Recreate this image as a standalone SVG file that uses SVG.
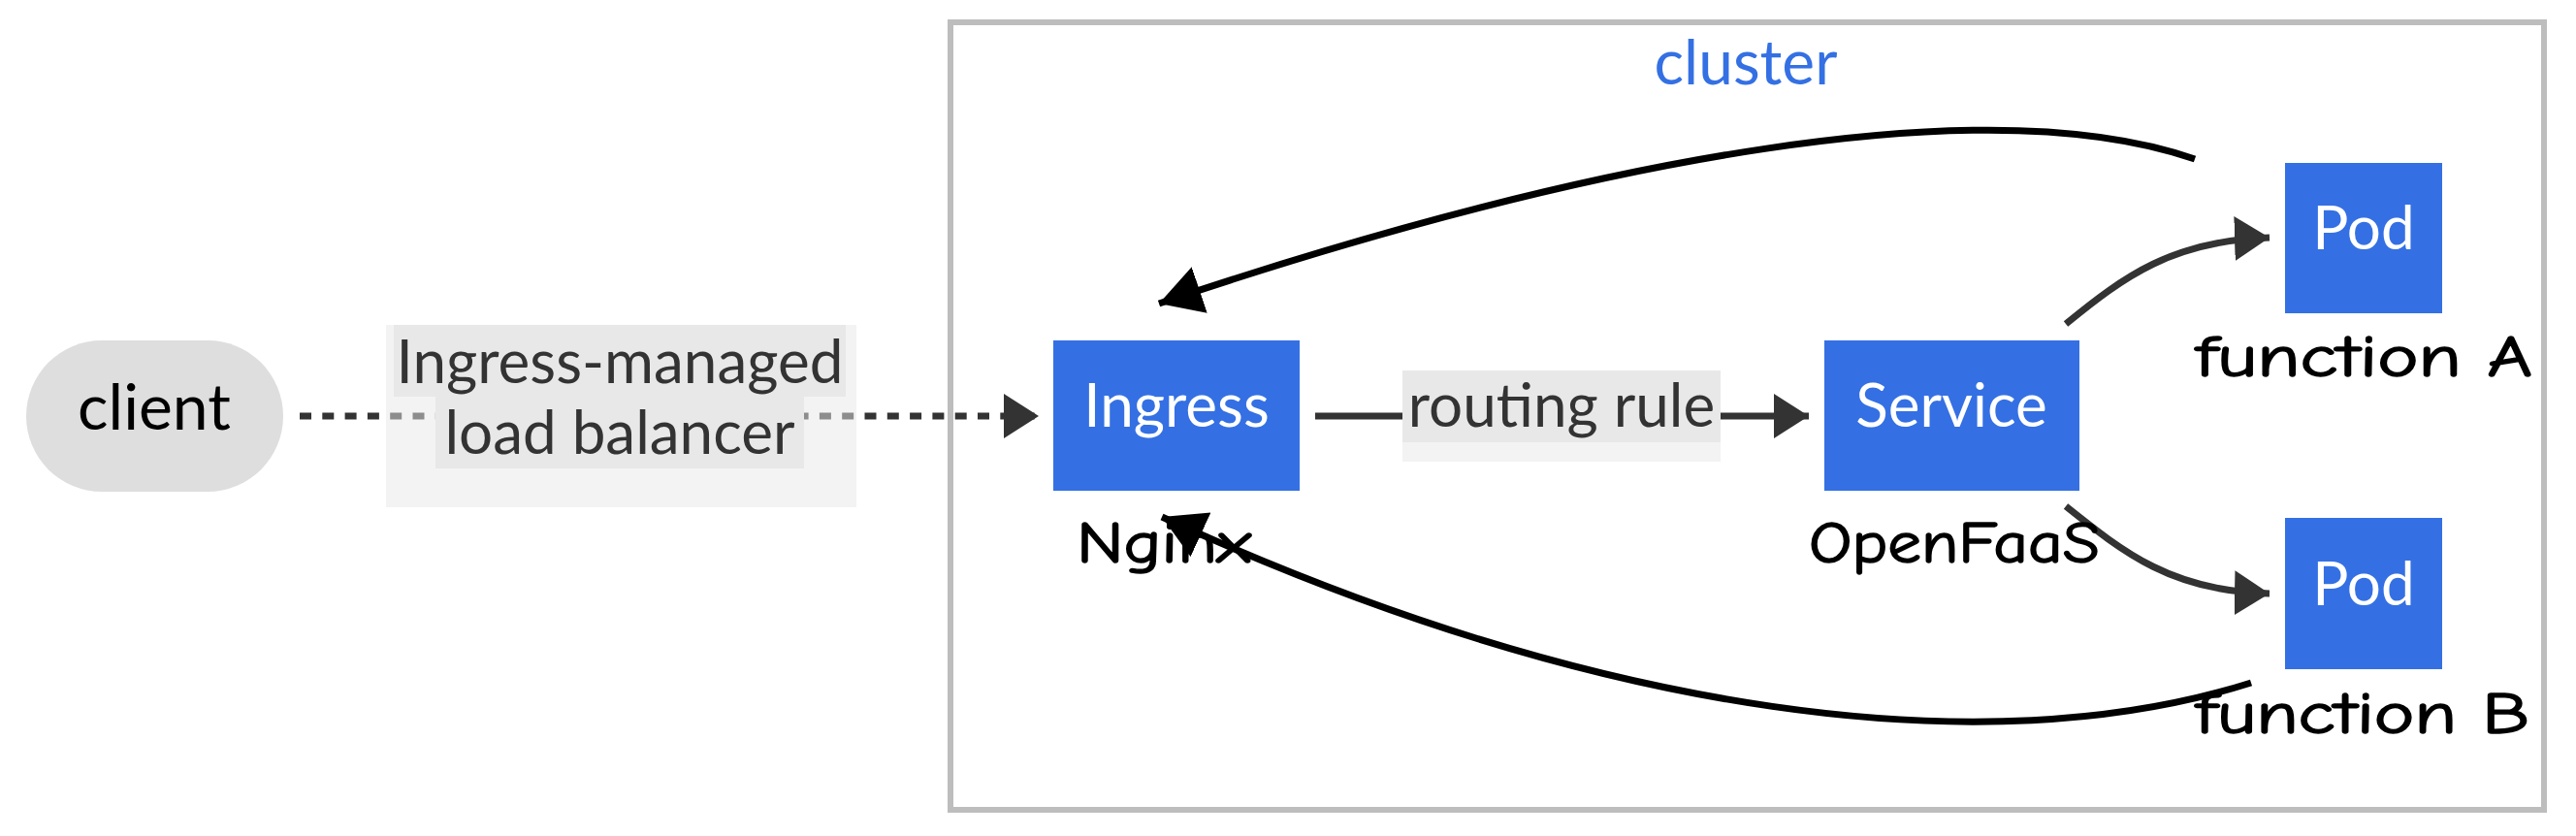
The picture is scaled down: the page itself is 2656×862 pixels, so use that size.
<svg xmlns="http://www.w3.org/2000/svg" width="2656" height="862" viewBox="0 0 2656 862">
<defs>
<style>
.node{fill:#3470e3}
.nt{font-family:Lato,"Noto Sans",sans-serif;font-size:62px;fill:#fff;text-anchor:middle}
.lt{font-family:Lato,"Noto Sans",sans-serif;font-size:62px;fill:#333;text-anchor:middle}
.hw{font-family:"Comic Sans MS","Comic Neue",cursive;font-size:60px;fill:#000;stroke:#000;stroke-width:1.5}
.edge{fill:none;stroke:#333;stroke-width:7}
.back{fill:none;stroke:#000;stroke-width:7}
.lbo{fill:#e8e8e8;opacity:0.5}
.lbi{fill:#e8e8e8}
</style>
<marker id="ah" markerUnits="userSpaceOnUse" markerWidth="40" markerHeight="50" refX="36" refY="23" orient="auto">
<path d="M0,0 L36,23 L0,46 z" fill="#333"/>
</marker>
<marker id="ahb" markerUnits="userSpaceOnUse" markerWidth="48" markerHeight="54" refX="44" refY="25" orient="auto">
<path d="M0,0 L44,25 L0,50 z" fill="#000"/>
</marker>
</defs>
<rect width="2656" height="862" fill="#fff"/>
<g id="cluster">
<rect x="980" y="23" width="1643" height="812" fill="none" stroke="#bdbdbd" stroke-width="6"/>
<text x="1800" y="87" style="font-family:Lato,'Noto Sans',sans-serif;font-size:64px;fill:#3470e3;text-anchor:middle">cluster</text>
</g>
<g id="connectors">
<path class="edge" d="M309,429 L1071,429" stroke-dasharray="12 11.3" marker-end="url(#ah)"/>
<g id="lb-label">
<rect class="lbo" x="398" y="335" width="485" height="188"/>
<rect class="lbi" x="406" y="335" width="466" height="74"/>
<rect class="lbi" x="449" y="409" width="380" height="74"/>
<text class="lt" x="639" y="395">Ingress-managed</text>
<text class="lt" x="639" y="468">load balancer</text>
</g>
<path class="edge" d="M1356,429 L1865,429" marker-end="url(#ah)"/>
<g id="rr-label">
<rect class="lbo" x="1446" y="382" width="328" height="94"/>
<rect class="lbi" x="1446" y="382" width="328" height="74"/>
<text class="lt" x="1610" y="440">routing rule</text>
</g>
<path class="edge" d="M2130,334 C2190,285 2240,248 2340,245" marker-end="url(#ah)"/>
<path class="edge" d="M2130,522 C2190,570 2240,610 2340,612" marker-end="url(#ah)"/>
<path class="back" d="M2263,164 C2050,90 1650,160 1195,313" marker-end="url(#ahb)"/>
<path class="back" d="M2321,704 C2050,790 1650,740 1198,533" marker-end="url(#ahb)"/>
</g>
<g id="client">
<rect x="27" y="351" width="265" height="156" rx="78" ry="78" fill="#dedede"/>
<text x="159" y="443" style="font-family:Lato,'Noto Sans',sans-serif;font-size:66px;fill:#000;text-anchor:middle">client</text>
</g>
<g id="ingress">
<rect class="node" x="1086" y="351" width="254" height="155"/>
<text class="nt" x="1213" y="440">Ingress</text>
<text class="hw" x="1110" y="580" textLength="180" lengthAdjust="spacingAndGlyphs">Nginx</text>
</g>
<g id="service">
<rect class="node" x="1881" y="351" width="263" height="155"/>
<text class="nt" x="2012" y="440">Service</text>
<text class="hw" x="1865" y="580" textLength="300" lengthAdjust="spacingAndGlyphs">OpenFaaS</text>
</g>
<g id="podA">
<rect class="node" x="2356" y="168" width="162" height="155"/>
<text class="nt" x="2437" y="257">Pod</text>
<text class="hw" x="2264" y="388" textLength="347" lengthAdjust="spacingAndGlyphs">function A</text>
</g>
<g id="podB">
<rect class="node" x="2356" y="534" width="162" height="156"/>
<text class="nt" x="2437" y="624">Pod</text>
<text class="hw" x="2264" y="756" textLength="344" lengthAdjust="spacingAndGlyphs">function B</text>
</g>
</svg>
